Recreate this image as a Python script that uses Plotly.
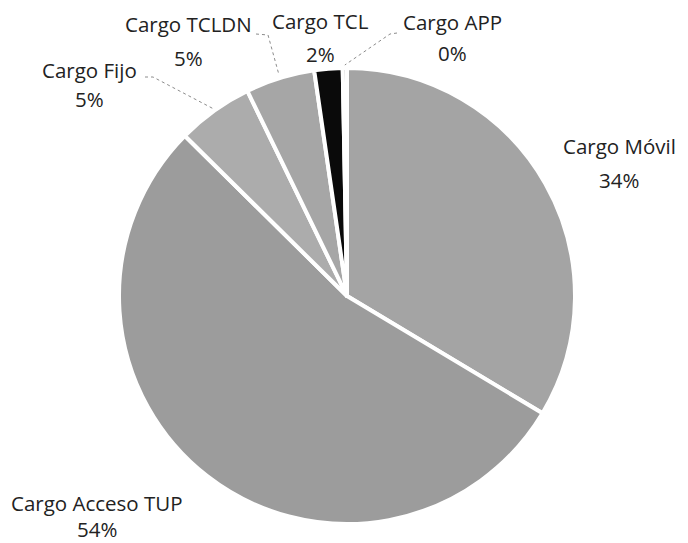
import plotly.graph_objects as go
import math

labels = ["Cargo Móvil", "Cargo Acceso TUP", "Cargo Fijo", "Cargo TCLDN", "Cargo TCL", "Cargo APP"]
values = [33.6, 53.8, 5.4, 4.9, 2.0, 0.3]
pct_labels = ["34%", "54%", "5%", "5%", "2%", "0%"]
colors = ["#a4a4a4", "#9c9c9c", "#acacac", "#a6a6a6", "#0a0a0a", "#a4a4a4"]

WIN_W, WIN_H = 688, 543
OFF = 8  # page body margin
W, H = WIN_W - OFF, WIN_H - OFF  # figure fits the window without scrollbars
cx, cy, R = 347, 296, 228

def px(x):
    return (x - OFF) / W

def py(y):
    return 1 - (y - OFF) / H

fig = go.Figure(go.Pie(
    labels=labels, values=values, sort=False, direction="clockwise", rotation=0,
    marker=dict(colors=colors, line=dict(color="white", width=4)),
    textinfo="none", hoverinfo="label+percent", showlegend=False,
    domain=dict(x=[px(cx - R), px(cx + R)], y=[py(cy + R), py(cy - R)]),
))

label_pos = [
    (619, 146, 180),
    (97, 503, 529),
    (89, 70, 99),
    (188, 24, 58),
    (320, 21, 54),
    (452, 22, 53),
]
font = dict(family="Open Sans", size=20.5, color="#222222")
annotations = []
for name, pct, (x, y1, y2) in zip(labels, pct_labels, label_pos):
    annotations.append(dict(x=px(x), y=py(y1), xref="paper", yref="paper", text=name,
                            showarrow=False, font=font, xanchor="center", yanchor="middle"))
    annotations.append(dict(x=px(x), y=py(y2), xref="paper", yref="paper", text=pct,
                            showarrow=False, font=font, xanchor="center", yanchor="middle"))

total = sum(values)
cum = 0
mid_angles = []
for v in values:
    mid_angles.append((cum + v / 2) / total * 2 * math.pi)
    cum += v

def rim(i, r=R):
    a = mid_angles[i]
    return cx + r * math.sin(a), cy - r * math.cos(a)

leaders = {
    2: [(145, 77), (153, 77)],
    3: [(256, 34), (268, 35)],
    5: [(397, 33), (390, 34)],
}
shapes = []
for i, pts in leaders.items():
    ex, ey = rim(i, R + 3)
    path_pts = pts + [(ex, ey)]
    d = "M " + " L ".join(f"{px(x)},{py(y)}" for x, y in path_pts)
    shapes.append(dict(type="path", path=d, xref="paper", yref="paper",
                       line=dict(color="#8c8c8c", width=1, dash="dot")))

fig.update_layout(
    width=W, height=H, margin=dict(l=0, r=0, t=0, b=0),
    paper_bgcolor="white", plot_bgcolor="white",
    annotations=annotations, shapes=shapes,
)
fig.write_html("out.html")
